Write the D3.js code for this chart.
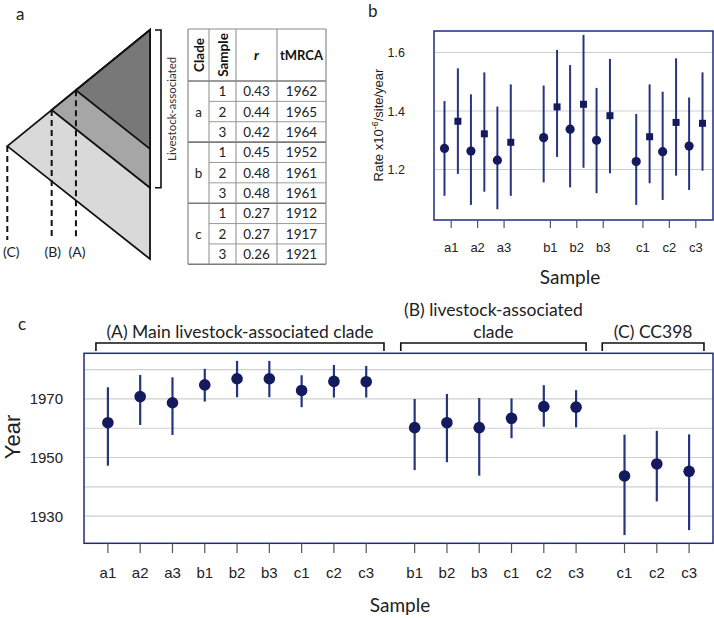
<!DOCTYPE html>
<html><head><meta charset="utf-8">
<script src="https://cdn.jsdelivr.net/npm/d3@7"></script>
<style>body{margin:0;background:#fff}svg{display:block}</style>
</head><body>
<svg id="c" width="714" height="618"></svg>
<script>
// ---------- Panel a: schematic + table ----------
const nodeLabels = ["(C)", "(B)", "(A)"];
const nodeTimes = [0, 0.311, 0.481];          // relative time of clade root
const nodeFills = ["#d9d9d9", "#a6a6a6", "#787878"];
const tableClade = ["a","a","a","b","b","b","c","c","c"];
const tableSample = ["1","2","3","1","2","3","1","2","3"];
const tableR = ["0.43","0.44","0.42","0.45","0.48","0.48","0.27","0.27","0.26"];
const tableTMRCA = ["1962","1965","1964","1952","1961","1961","1912","1917","1921"];
const tableHeaders = ["Clade","Sample","r","tMRCA"];

// ---------- Panel b: rates ----------
const rateSamples = ["a1","a2","a3","b1","b2","b3","c1","c2","c3"];
const rateGroup = ["a","a","a","b","b","b","c","c","c"];
const circleMean = [1.272,1.263,1.232,1.309,1.338,1.300,1.227,1.261,1.280];
const circleLo   = [1.110,1.079,1.064,1.156,1.139,1.119,1.079,1.096,1.130];
const circleHi   = [1.434,1.457,1.415,1.487,1.557,1.479,1.390,1.466,1.446];
const squareMean = [1.365,1.322,1.293,1.414,1.423,1.384,1.312,1.361,1.358];
const squareLo   = [1.185,1.124,1.110,1.243,1.206,1.187,1.153,1.179,1.196];
const squareHi   = [1.546,1.532,1.491,1.609,1.660,1.578,1.491,1.580,1.532];
const rateTicks = [1.2, 1.4, 1.6];

// ---------- Panel c: tMRCA years ----------
const yearSamples = ["a1","a2","a3","b1","b2","b3","c1","c2","c3","b1","b2","b3","c1","c2","c3","c1","c2","c3"];
const yearGroup = [0,0,0,0,0,0,0,0,0,1,1,1,1,1,1,2,2,2];
const yearMean = [1961.9,1970.8,1968.7,1974.8,1976.9,1976.9,1972.9,1976.0,1975.9,1960.2,1961.9,1960.2,1963.4,1967.4,1967.2,1943.7,1947.8,1945.3];
const yearLo   = [1947.2,1961.1,1957.7,1969.1,1970.6,1970.6,1967.2,1970.5,1970.5,1945.7,1948.4,1943.8,1956.6,1960.5,1960.3,1923.5,1935.0,1925.2];
const yearHi   = [1974.0,1978.2,1977.4,1980.3,1983.0,1983.0,1978.1,1981.6,1981.3,1970.0,1971.7,1970.3,1970.2,1974.7,1973.0,1957.8,1959.1,1957.9];
const groupLabels = [["(A) Main livestock-associated clade"], ["(B) livestock-associated", "clade"], ["(C) CC398"]];
const yearTicks = [1930, 1950, 1970];
const yearGrid = [1930, 1940, 1950, 1960, 1970, 1980];

const svg = d3.select("#c");
const CAL = "Lato, 'Open Sans', sans-serif";
const ARI = "'Liberation Sans', Arial, sans-serif";
const NAVY = "#141a5e", LINE = "#27357f", FRAME = "#1f2b80", GRID = "#cfcfcf";

// ================= Panel a =================
svg.append("text").attr("x", 16).attr("y", 20).attr("font-family", CAL).attr("font-size", 17).attr("fill", "#222").text("a");
const ax = d3.scaleLinear().domain([0, 1]).range([7.3, 150]);
const ay = d3.scaleLinear().domain([0, 1]).range([30, 259]);   // vertical schematic units
const upperY = t => 0.507 * (1 - t);        // upper edge of tree
const lowerSlope = 0.493;                   // lower edges are parallel
const ga = svg.append("g");
nodeTimes.forEach((t, i) => {
  const y0 = upperY(t);
  const pts = [[ax(t), ay(y0)], [ax(1), ay(0)], [ax(1), ay(y0 + lowerSlope * (1 - t))]];
  ga.append("path").attr("d", d3.line()(pts) + "Z").attr("fill", nodeFills[i]).attr("stroke", "#111").attr("stroke-width", 1.8).attr("stroke-linejoin", "miter");
});
nodeTimes.forEach((t, i) => {
  ga.append("line").attr("x1", ax(t)).attr("x2", ax(t)).attr("y1", ay(upperY(t))).attr("y2", 240)
    .attr("stroke", "#111").attr("stroke-width", 2).attr("stroke-dasharray", "6,4");
  ga.append("text").attr("x", ax(t) + (i === 0 ? 4 : 1)).attr("y", 257).attr("text-anchor", "middle")
    .attr("font-family", CAL).attr("font-size", 14).attr("fill", "#222").text(nodeLabels[i]);
});
// bracket livestock-associated
const bTop = ay(0), bBot = ay(upperY(nodeTimes[1]) + lowerSlope * (1 - nodeTimes[1]));
ga.append("path").attr("d", `M155,${bTop}H161V${bBot}H155`).attr("fill", "none").attr("stroke", "#111").attr("stroke-width", 1.6);
ga.append("text").attr("transform", `translate(176,${(bTop + bBot) / 2}) rotate(-90)`).attr("text-anchor", "middle")
  .attr("font-family", CAL).attr("font-size", 11.5).attr("fill", "#333").text("Livestock-associated");

// table
const colX = [188, 209, 236, 277, 326];
const tTop = 29, hBot = 81, rowH = (264.3 - 81) / 9;
const gt = svg.append("g");
const rowY = d3.range(10).map(i => hBot + i * rowH);
gt.append("line").attr("x1", colX[0]).attr("x2", colX[4]).attr("y1", tTop).attr("y2", tTop).attr("stroke", "#8a8a8a").attr("stroke-width", 1.2);
rowY.forEach((y, i) => {
  const thick = (i % 3 === 0);
  gt.append("line").attr("x1", thick ? colX[0] : colX[1]).attr("x2", colX[4]).attr("y1", y).attr("y2", y)
    .attr("stroke", thick ? "#7a7a7a" : "#9a9a9a").attr("stroke-width", thick ? 1.6 : 1);
});
colX.forEach((x, i) => {
  gt.append("line").attr("x1", x).attr("x2", x).attr("y1", tTop).attr("y2", rowY[9])
    .attr("stroke", "#8a8a8a").attr("stroke-width", (i === 0 || i === 4) ? 1.2 : 1);
});
const cc = d3.range(4).map(i => (colX[i] + colX[i + 1]) / 2);
const hMid = (tTop + hBot) / 2;
gt.append("text").attr("transform", `translate(${cc[0] + 5},${hMid}) rotate(-90)`).attr("text-anchor", "middle")
  .attr("font-family", CAL).attr("font-weight", "bold").attr("font-size", 13.5).attr("fill", "#111").text(tableHeaders[0]);
gt.append("text").attr("transform", `translate(${cc[1] + 5},${hMid}) rotate(-90)`).attr("text-anchor", "middle")
  .attr("font-family", CAL).attr("font-weight", "bold").attr("font-size", 13.5).attr("fill", "#111").text(tableHeaders[1]);
gt.append("text").attr("x", cc[2]).attr("y", hMid + 5).attr("text-anchor", "middle")
  .attr("font-family", CAL).attr("font-weight", "bold").attr("font-style", "italic").attr("font-size", 14).attr("fill", "#111").text(tableHeaders[2]);
gt.append("text").attr("x", cc[3]).attr("y", hMid + 5).attr("text-anchor", "middle")
  .attr("font-family", CAL).attr("font-weight", "bold").attr("font-size", 13).attr("fill", "#111").text(tableHeaders[3]);
tableSample.forEach((s, i) => {
  const y = rowY[i] + rowH / 2 + 5;
  [s, tableR[i], tableTMRCA[i]].forEach((v, j) => {
    gt.append("text").attr("x", cc[j + 1]).attr("y", y).attr("text-anchor", "middle")
      .attr("font-family", CAL).attr("font-size", 13.5).attr("fill", "#222").text(v);
  });
  if (i % 3 === 1) {
    gt.append("text").attr("x", cc[0]).attr("y", y).attr("text-anchor", "middle")
      .attr("font-family", CAL).attr("font-size", 13.5).attr("fill", "#222").text(tableClade[i]);
  }
});

// ================= Panel b =================
svg.append("text").attr("x", 368).attr("y", 17).attr("font-family", CAL).attr("font-size", 17).attr("fill", "#222").text("b");
const groupsB = ["a", "b", "c"], extraB = [0, 0.75, 1.25];
const posB = rateSamples.map((s, i) => i + extraB[groupsB.indexOf(rateGroup[i])]);
const bx = d3.scaleLinear().domain([-0.65, 9.9]).range([434, 713]);
const by = d3.scaleLinear().domain([1.0274, 1.6735]).range([220, 31]);
const gb = svg.append("g");
gb.selectAll(".grid").data(rateTicks).join("line").attr("x1", 434).attr("x2", 713)
  .attr("y1", d => by(d)).attr("y2", d => by(d)).attr("stroke", GRID).attr("stroke-width", 1.2);
gb.selectAll(".ylab").data(rateTicks).join("text").attr("x", 405).attr("y", d => by(d) + 4.5).attr("text-anchor", "end")
  .attr("font-family", ARI).attr("font-size", 12.5).attr("fill", "#222").text(d => d.toFixed(1));
const off = 6.7;
posB.forEach((p, i) => {
  gb.append("line").attr("x1", bx(p) - off).attr("x2", bx(p) - off).attr("y1", by(circleLo[i])).attr("y2", by(circleHi[i])).attr("stroke", LINE).attr("stroke-width", 2);
  gb.append("line").attr("x1", bx(p) + off).attr("x2", bx(p) + off).attr("y1", by(squareLo[i])).attr("y2", by(squareHi[i])).attr("stroke", LINE).attr("stroke-width", 2);
});
posB.forEach((p, i) => {
  gb.append("circle").attr("cx", bx(p) - off).attr("cy", by(circleMean[i])).attr("r", 4.6).attr("fill", NAVY);
  gb.append("rect").attr("x", bx(p) + off - 3.5).attr("y", by(squareMean[i]) - 3.5).attr("width", 7).attr("height", 7).attr("fill", NAVY);
});
gb.append("rect").attr("x", 434).attr("y", 31).attr("width", 279).attr("height", 189).attr("fill", "none").attr("stroke", FRAME).attr("stroke-width", 1.5);
posB.forEach((p, i) => {
  gb.append("line").attr("x1", bx(p)).attr("x2", bx(p)).attr("y1", 220.5).attr("y2", 228).attr("stroke", "#555").attr("stroke-width", 1.2);
  gb.append("text").attr("x", bx(p)).attr("y", 252).attr("text-anchor", "middle").attr("font-family", ARI).attr("font-size", 13).attr("fill", "#222").text(rateSamples[i]);
});
const yt = gb.append("text").attr("transform", "translate(383,125) rotate(-90)").attr("text-anchor", "middle")
  .attr("font-family", ARI).attr("font-size", 13).attr("fill", "#222");
yt.append("tspan").text("Rate x10");
yt.append("tspan").attr("dy", -5).attr("font-size", 9).text("-6");
yt.append("tspan").attr("dy", 5).text("/site/year");
gb.append("text").attr("x", 570).attr("y", 284).attr("text-anchor", "middle").attr("font-family", CAL).attr("font-size", 19).attr("fill", "#222").text("Sample");

// ================= Panel c =================
svg.append("text").attr("x", 18).attr("y", 330).attr("font-family", CAL).attr("font-size", 17).attr("fill", "#222").text("c");
const posC = yearSamples.map((s, i) => i + 0.5 * yearGroup[i]);
const cx = d3.scaleLinear().domain([-0.74, 18.74]).range([84, 713]);
const cy = d3.scaleLinear().domain([1920.8, 1985.7]).range([543, 353]);
const gc = svg.append("g");
gc.selectAll(".gridc").data(yearGrid).join("line").attr("x1", 84).attr("x2", 713)
  .attr("y1", d => cy(d)).attr("y2", d => cy(d)).attr("stroke", GRID).attr("stroke-width", 1.2);
gc.selectAll(".ylabc").data(yearTicks).join("text").attr("x", 63).attr("y", d => cy(d) + 5.5).attr("text-anchor", "end")
  .attr("font-family", ARI).attr("font-size", 15).attr("fill", "#222").text(d => d);
posC.forEach((p, i) => {
  gc.append("line").attr("x1", cx(p)).attr("x2", cx(p)).attr("y1", cy(yearLo[i])).attr("y2", cy(yearHi[i])).attr("stroke", LINE).attr("stroke-width", 2.2);
});
posC.forEach((p, i) => {
  gc.append("circle").attr("cx", cx(p)).attr("cy", cy(yearMean[i])).attr("r", 5.8).attr("fill", NAVY);
});
gc.append("rect").attr("x", 84).attr("y", 353.3).attr("width", 629).attr("height", 190).attr("fill", "none").attr("stroke", FRAME).attr("stroke-width", 1.5);
posC.forEach((p, i) => {
  gc.append("line").attr("x1", cx(p)).attr("x2", cx(p)).attr("y1", 543.5).attr("y2", 553).attr("stroke", "#555").attr("stroke-width", 1.2);
  gc.append("text").attr("x", cx(p)).attr("y", 578).attr("text-anchor", "middle").attr("font-family", ARI).attr("font-size", 15).attr("fill", "#222").text(yearSamples[i]);
});
gc.append("text").attr("transform", "translate(20,437) rotate(-90)").attr("text-anchor", "middle")
  .attr("font-family", ARI).attr("font-size", 22).attr("fill", "#222").text("Year");
gc.append("text").attr("x", 400).attr("y", 612).attr("text-anchor", "middle").attr("font-family", CAL).attr("font-size", 19).attr("fill", "#222").text("Sample");
// group brackets
const pads = [[-0.37, 0.55], [-0.43, 0.31], [-0.69, 0.46]];
groupLabels.forEach((lines, g) => {
  const idx = posC.filter((p, i) => yearGroup[i] === g);
  const x1 = cx(d3.min(idx) + pads[g][0]), x2 = cx(d3.max(idx) + pads[g][1]);
  gc.append("path").attr("d", `M${x1},351V343H${x2}V351`).attr("fill", "none").attr("stroke", "#111").attr("stroke-width", 1.6);
  const mid = (x1 + x2) / 2;
  lines.forEach((t, k) => {
    gc.append("text").attr("x", mid).attr("y", 338 - (lines.length - 1 - k) * 22).attr("text-anchor", "middle")
      .attr("font-family", CAL).attr("font-size", 17.5).attr("fill", "#222").text(t);
  });
});
</script>
</body></html>
